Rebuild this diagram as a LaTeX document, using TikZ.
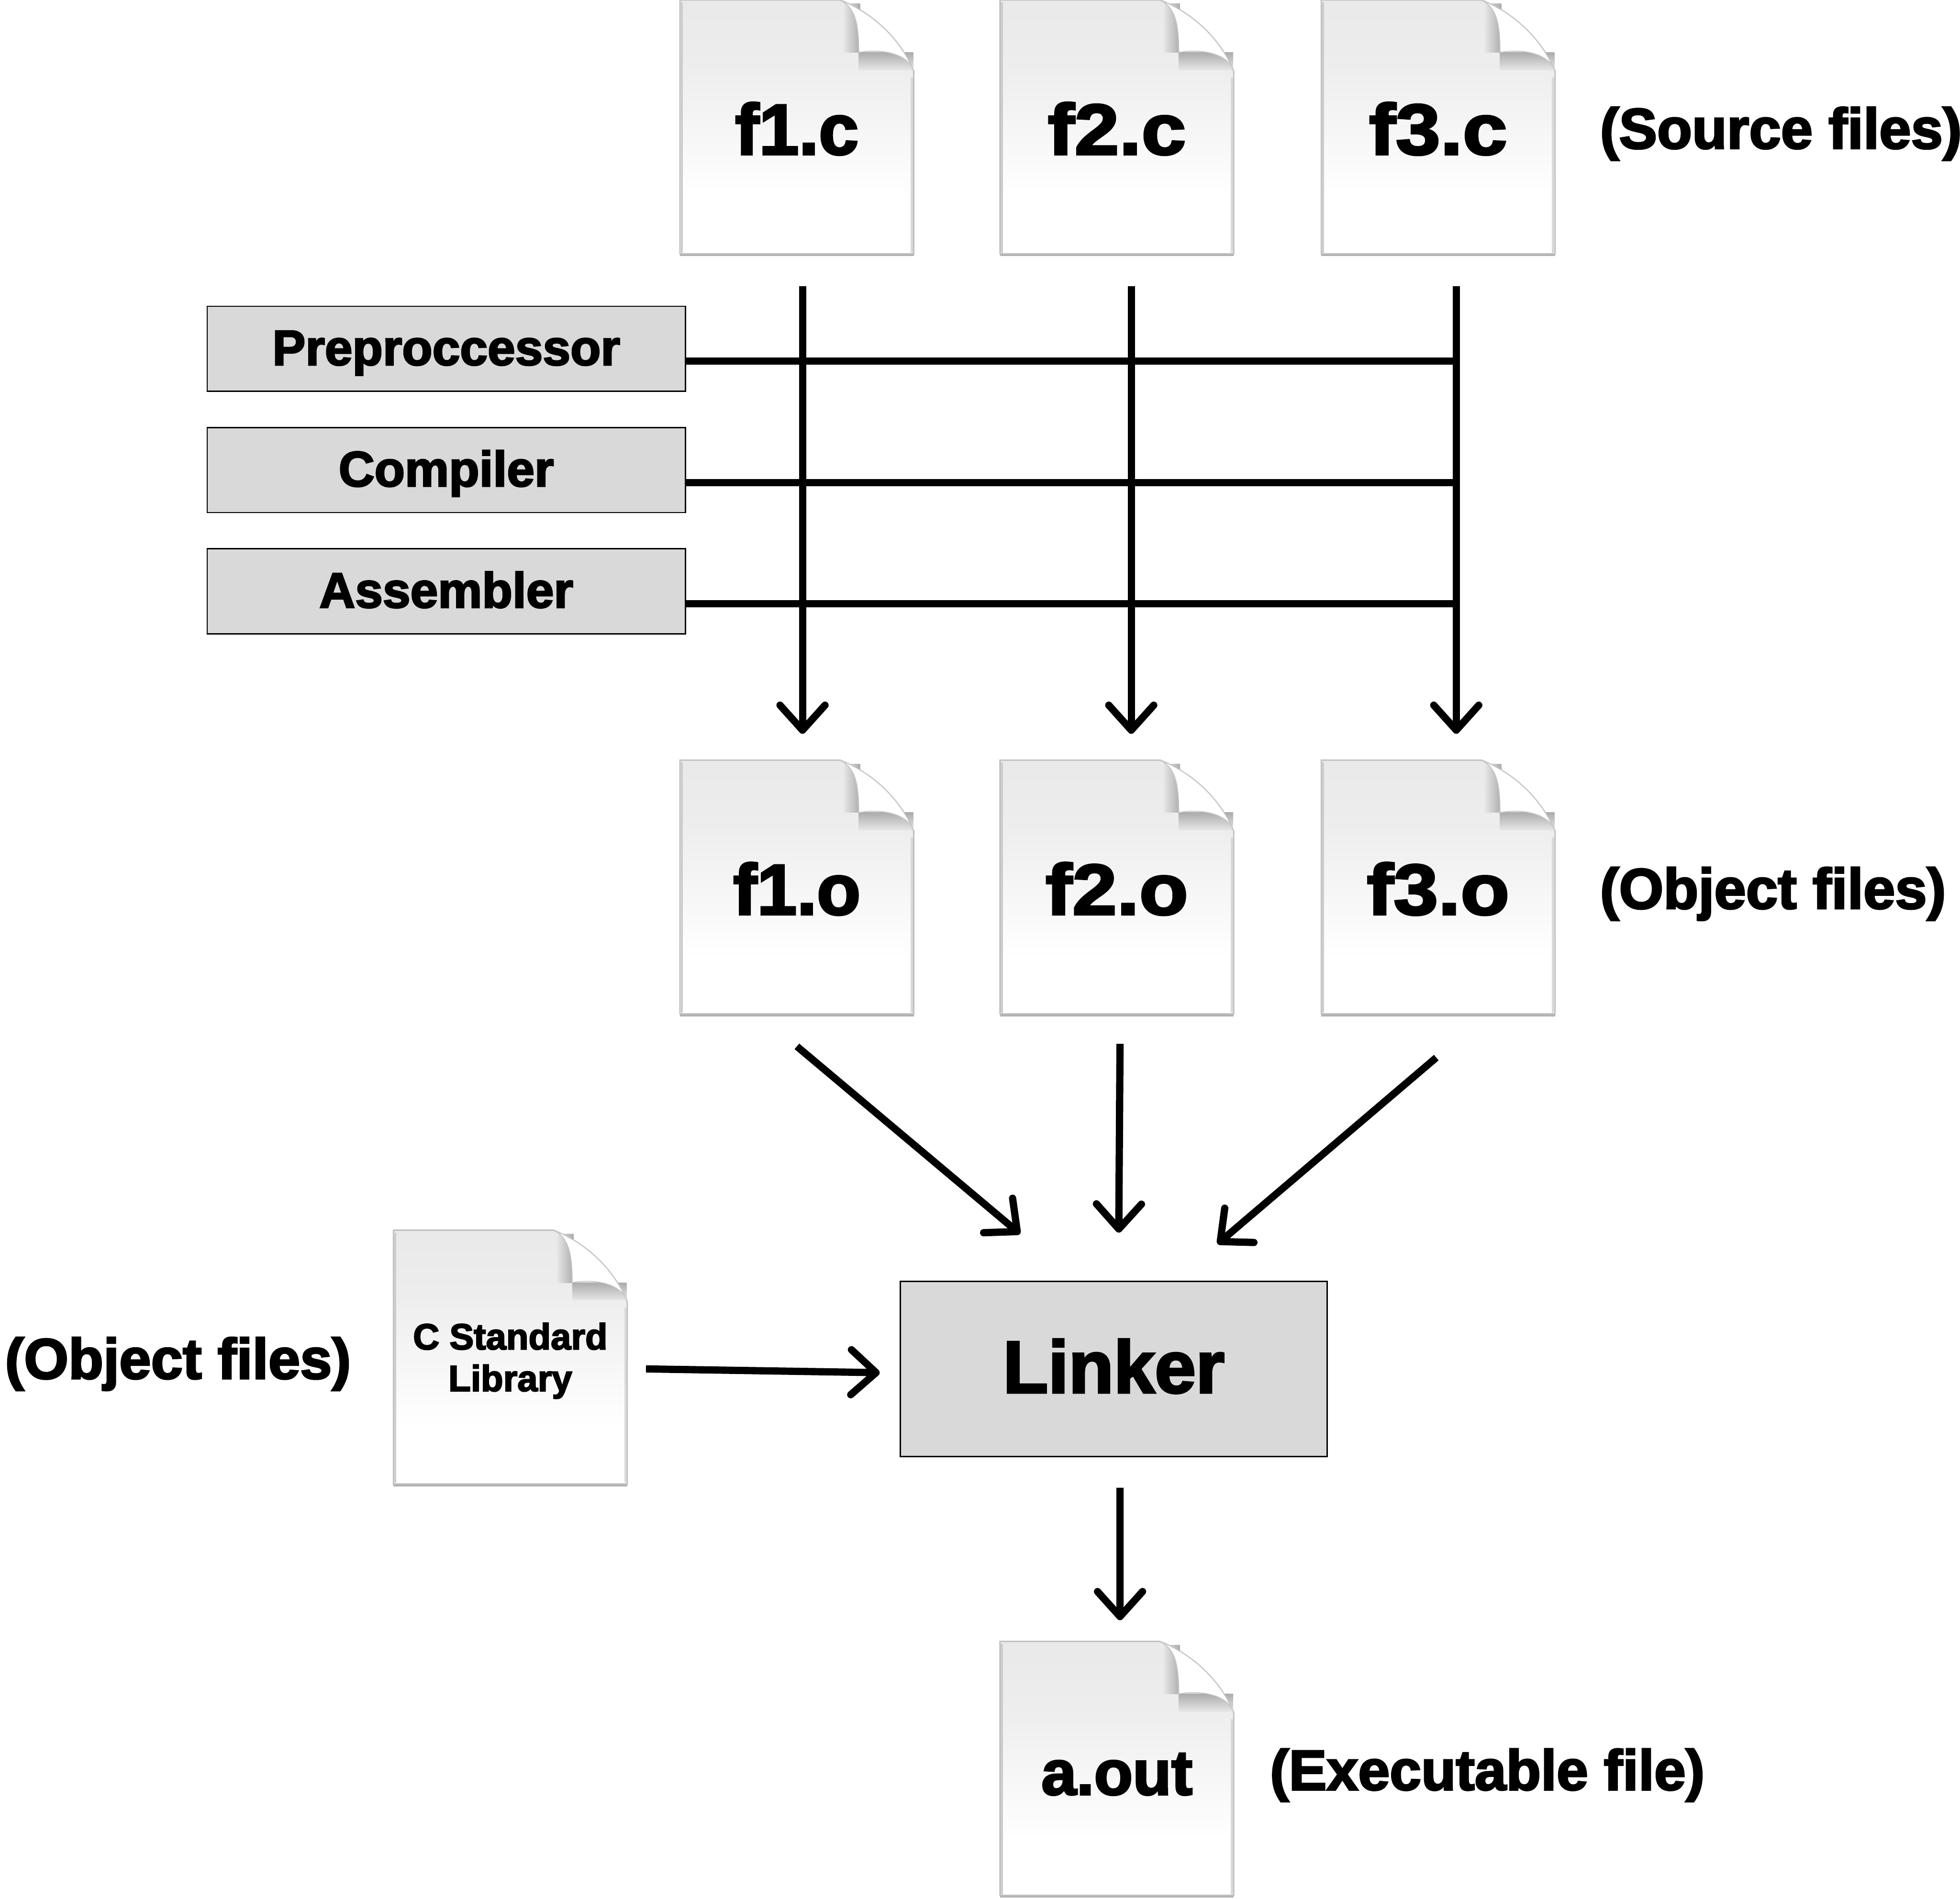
\documentclass[tikz,border=0pt]{standalone}
\usepackage{fontspec}
\setmainfont{Liberation Sans}[BoldFeatures={FakeBold=3}]
\newfontfamily\wideface{Liberation Sans}[FakeStretch=1.12, BoldFeatures={FakeBold=3}]
\usetikzlibrary{arrows.meta,backgrounds,calc,positioning}

\definecolor{pagetop}{HTML}{E2E2E2}
\definecolor{pagefold}{HTML}{E6E6E6}
\definecolor{blockgray}{HTML}{D9D9D9}
\pgfdeclareverticalshading{pagefill}{100bp}{color(0bp)=(white); color(36bp)=(white); color(62bp)=(white!93!black); color(100bp)=(pagetop)}

\newcommand{\fsize}[1]{\fontsize{#1pt}{#1pt}\selectfont\bfseries}

\newcommand{\pagedoc}[1]{%
    \begin{scope}[on background layer, shift={(#1.north west)}]
        \fill[gray!60] (0,-2.03) rectangle (1.87,-2.05);
        \shade[shading=pagefill, draw=gray!50, line width=0.3pt]
            (0,0) -- (1.28,0) .. controls (1.58,-0.12) and (1.78,-0.35) .. (1.87,-0.57)
            -- (1.87,-2.03) -- (0,-2.03) -- cycle;
        \draw[gray!40, line width=0.5pt] (0.015,-0.02) -- (0.015,-2.02);
        \draw[gray!30, line width=0.5pt] (1.855,-0.62) -- (1.855,-2.02);
        \shade[left color=pagefold, right color=gray!65] (1.31,-0.03) rectangle (1.44,-0.42);
        \shade[top color=gray!65, bottom color=pagefold] (1.43,-0.42) rectangle (1.865,-0.56);
        \fill[white, draw=gray!45, line width=0.2pt]
            (1.28,0) .. controls (1.40,-0.06) and (1.43,-0.18) .. (1.43,-0.42)
            .. controls (1.60,-0.39) and (1.82,-0.42) .. (1.87,-0.57)
            .. controls (1.78,-0.35) and (1.58,-0.12) .. (1.28,0);
    \end{scope}%
}

\begin{document}
\begin{tikzpicture}[
    >={Straight Barb[length=0.2cm, width=0.36cm, round]},
    flow/.style={line width=0.058cm},
    filebox/.style={rectangle, inner sep=0pt, outer sep=0pt, minimum width=1.87cm, minimum height=2.03cm, align=center},
    bigname/.style={filebox, text height=0.44cm, text depth=0pt, font=\fsize{16.3}},
    widename/.style={bigname, font=\wideface\fsize{16.3}},
    block/.style={draw, fill=blockgray, line width=0.3pt, inner sep=0pt, outer sep=0pt, minimum width=3.825cm, minimum height=0.68cm, text height=0.26cm, text depth=0pt, font=\fsize{11.3}},
    bigblock/.style={block, minimum width=3.415cm, minimum height=1.4cm, text height=0.38cm, font=\fsize{16.8}},
    remark/.style={inner sep=0pt, outer sep=0pt, yshift=-0.055cm}
]

    \useasboundingbox (0,0) rectangle (15.68,15.19);

    % source and object files
    \node[bigname] (f1c) at (6.375,14.175) {f1.c};
    \node[widename, right=0.69cm of f1c] (f2c) {f2.c};
    \node[widename, right=0.70cm of f2c] (f3c) {f3.c};
    \node[bigname, below=4.05cm of f1c] (f1o) {f1.o};
    \node[widename, below=4.05cm of f2c] (f2o) {f2.o};
    \node[widename, below=4.05cm of f3c] (f3o) {f3.o};

    \node[remark, right=0.36cm of f3c, font=\fsize{13}] (SrcNote) {(Source files)};
    \node[remark, right=0.36cm of f3o, font=\fsize{13}] (ObjNote) {(Object files)};

    % tool boxes
    \node[block] (Pre) at (3.57,12.40) {Preproccessor};
    \node[block, below=0.29cm of Pre] (Comp) {Compiler};
    \node[block, below=0.29cm of Comp] (Asm) {Assembler};

    % linking part
    \node[bigblock, below=2.14cm of f2o, xshift=-0.025cm] (Linker) {Linker};
    \node[filebox, left=2.185cm of Linker, yshift=0.095cm, font=\fsize{8.3}, text depth=0pt] (Clib) {C Standard\\[1.2pt]Library};
    \node[bigname, below=1.48cm of Linker, xshift=0.025cm, text height=0.42cm, font=\fsize{14.4}] (Aout) {a.out};

    \node[remark, left=0.34cm of Clib, font=\fsize{13}] (LibNote) {(Object files)};
    \node[remark, right=0.29cm of Aout, font=\fsize{12.9}] (ExeNote) {(Executable file)};

    \foreach \name in {f1c,f2c,f3c,f1o,f2o,f3o,Clib,Aout} {
        \pagedoc{\name}
    }

    \coordinate (s1) at ($(f1c.south) + (0.045,-0.26)$);
    \coordinate (s2) at ($(f2c.south) + (0.115,-0.26)$);
    \coordinate (s3) at ($(f3c.south) + (0.145,-0.26)$);
    \coordinate (t1) at ($(f1o.north) + (0.045,0.21)$);
    \coordinate (t2) at ($(f2o.north) + (0.115,0.21)$);
    \coordinate (t3) at ($(f3o.north) + (0.145,0.21)$);

    \draw[flow, ->] (s1) -- (t1);
    \draw[flow, ->] (s2) -- (t2);
    \draw[flow, ->] (s3) -- (t3);

    \foreach \tool in {Pre,Comp,Asm} {
        \coordinate (\tool L) at ($(\tool.east) + (0,-0.10)$);
        \draw[flow] (\tool L) -- (\tool L -| s3);
    }

    \draw[flow, ->] ($(f1o.south) + (0,-0.26)$) -- ($(Linker.north) + (-0.75,0.38)$);
    \draw[flow, ->] ($(f2o.south) + (0.025,-0.24)$) -- ($(Linker.north) + (0.04,0.39)$);
    \draw[flow, ->] ($(f3o.south) + (-0.015,-0.35)$) -- ($(Linker.north) + (0.83,0.30)$);
    \draw[flow, ->] ($(Clib.east) + (0.15,-0.095)$) -- ($(Linker.west) + (-0.165,-0.03)$);
    \draw[flow, ->] ($(Linker.south) + (0.05,-0.25)$) -- ($(Aout.north) + (0.025,0.17)$);

\end{tikzpicture}
\end{document}
